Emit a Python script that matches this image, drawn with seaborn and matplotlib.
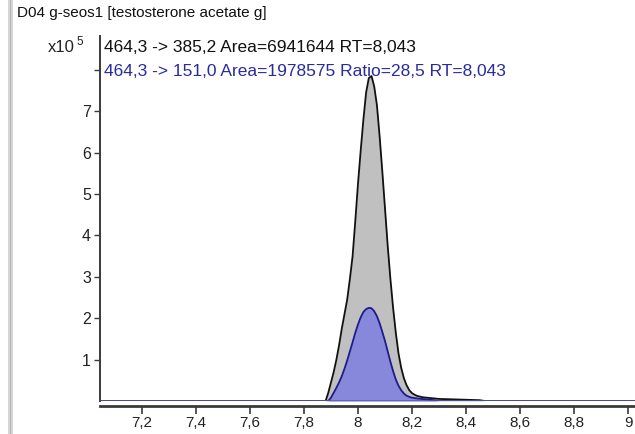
import numpy as np
import pandas as pd
import matplotlib
matplotlib.use("Agg")
import matplotlib.pyplot as plt
import seaborn as sns
from matplotlib.lines import Line2D
from matplotlib.patches import Rectangle

# ---------------- data (x in min, y in x10^5 counts) ----------------
gray_x = [7.00, 7.88, 7.89, 7.90, 7.91, 7.92, 7.93, 7.94, 7.95, 7.96, 7.97, 7.98,
          7.99, 8.00, 8.01, 8.02, 8.03, 8.04, 8.05, 8.06, 8.07, 8.08, 8.09, 8.10,
          8.11, 8.12, 8.13, 8.14, 8.15, 8.16, 8.17, 8.18, 8.19, 8.20, 8.21, 8.22,
          8.24, 8.27, 8.30, 8.35, 8.40, 8.45, 8.47, 9.10]
gray_y = [0.0, 0.0, 0.2, 0.45, 0.7, 1.0, 1.35, 1.75, 2.1, 2.45, 2.95, 3.5,
          4.35, 5.25, 6.05, 6.8, 7.45, 7.8, 7.85, 7.6, 7.15, 6.4, 5.55, 4.65,
          3.75, 2.95, 2.25, 1.65, 1.15, 0.8, 0.55, 0.38, 0.26, 0.19, 0.15, 0.12,
          0.09, 0.07, 0.05, 0.04, 0.03, 0.02, 0.0, 0.0]

blue_x = [7.00, 7.89, 7.90, 7.91, 7.92, 7.93, 7.94, 7.95, 7.96, 7.97, 7.98, 7.99,
          8.00, 8.01, 8.02, 8.03, 8.04, 8.05, 8.06, 8.07, 8.08, 8.09, 8.10, 8.11,
          8.12, 8.13, 8.14, 8.15, 8.16, 8.17, 8.18, 8.19, 8.20, 8.22, 8.25, 8.28,
          8.30, 9.10]
blue_y = [0.0, 0.0, 0.08, 0.2, 0.32, 0.45, 0.6, 0.78, 0.98, 1.2, 1.42, 1.65,
          1.85, 2.02, 2.15, 2.22, 2.25, 2.24, 2.17, 2.05, 1.88, 1.67, 1.45, 1.2,
          0.95, 0.72, 0.52, 0.37, 0.26, 0.18, 0.13, 0.1, 0.08, 0.06, 0.04, 0.02,
          0.0, 0.0]

x_ticks = [7.2, 7.4, 7.6, 7.8, 8.0, 8.2, 8.4, 8.6, 8.8, 9.0]
x_tick_labels = ["7,2", "7,4", "7,6", "7,8", "8", "8,2", "8,4", "8,6", "8,8", "9"]
y_ticks = [1, 2, 3, 4, 5, 6, 7, 8]
y_tick_labels = ["1", "2", "3", "4", "5", "6", "7", ""]

title = "D04 g-seos1 [testosterone acetate g]"
label_1 = "464,3 -> 385,2 Area=6941644 RT=8,043"
label_2 = "464,3 -> 151,0 Area=1978575 Ratio=28,5 RT=8,043"

# ---------------- style ----------------
sns.set_theme(style="white")
plt.rcParams['font.family'] = ['Liberation Sans', 'DejaVu Sans']

W, H = 635, 434
fig = plt.figure(figsize=(W / 100, H / 100), dpi=100)
fig.patch.set_facecolor("white")

def fx(px):
    return px / W

def fy(py):
    return 1 - py / H

ax_left, ax_right, ax_top, ax_bottom = 100, 635, 36, 401
ax = fig.add_axes([fx(ax_left), fy(ax_bottom), fx(ax_right - ax_left), (ax_bottom - ax_top) / H])
ax.set_facecolor("white")

df_g = pd.DataFrame({"x": gray_x, "y": gray_y})
df_b = pd.DataFrame({"x": blue_x, "y": blue_y})

ax.fill_between(df_g["x"], 0, df_g["y"], color="#c0c0c0", lw=0, zorder=1)
sns.lineplot(data=df_g, x="x", y="y", ax=ax, color="#111111", lw=1.3,
             estimator=None, sort=False, zorder=2)
ax.fill_between(df_b["x"], 0, df_b["y"], color="#8787dc", lw=0, zorder=3)
sns.lineplot(data=df_b, x="x", y="y", ax=ax, color="#1c1c8a", lw=1.3,
             estimator=None, sort=False, zorder=4)
ax.axhline(0, color="#5a5aa8", lw=1.8, zorder=5)

px_per_unit_x = 270.0
x0 = 7.2 - (142 - ax_left) / px_per_unit_x
ax.set_xlim(x0, x0 + (ax_right - ax_left) / px_per_unit_x)
ax.set_ylim(0, (ax_bottom - ax_top) / 41.4)

ax.set_xticks(x_ticks)
ax.set_xticklabels(x_tick_labels)
ax.set_yticks(y_ticks)
ax.set_yticklabels(y_tick_labels)
ax.set_xlabel("")
ax.set_ylabel("")

for s in ["top", "right"]:
    ax.spines[s].set_visible(False)
ax.spines["left"].set_color("#3a3a3a")
ax.spines["left"].set_linewidth(1.4)
ax.spines["bottom"].set_color("#3a3a3a")
ax.spines["bottom"].set_linewidth(2.0)
ax.spines["bottom"].set_position(("outward", 3.6))

ax.tick_params(axis="y", direction="out", length=4.5, width=1.0, color="#3a3a3a",
               labelsize=11.5, pad=2, left=True, labelcolor="#222222")
ax.tick_params(axis="x", direction="out", length=5.5, width=1.2, color="#3a3a3a",
               labelsize=11, pad=1.5, bottom=True, labelcolor="#222222")
ax.grid(False)

# ---------------- texts ----------------
fig.text(fx(17), fy(13), title, fontsize=11, color="#111111", va="center", ha="left")
fig.text(fx(75), fy(48), "x10", fontsize=12, color="#222222", va="center", ha="right")
fig.text(fx(76), fy(42), "5", fontsize=8.5, color="#222222", va="center", ha="left")
fig.text(fx(104), fy(47), label_1, fontsize=12.5, color="#111111", va="center", ha="left")
fig.text(fx(104), fy(71), label_2, fontsize=12.5, color="#2a2aa0", va="center", ha="left")

# window frame line on the left
fig.add_artist(Rectangle((fx(8), 0), fx(5), 1, transform=fig.transFigure,
                         facecolor="#d6d6d6", edgecolor="none"))
fig.add_artist(Line2D([fx(9.5), fx(9.5)], [0, 1], transform=fig.transFigure,
                      color="#b8b8b8", lw=0.8))

fig.savefig("out.png", dpi=100)
